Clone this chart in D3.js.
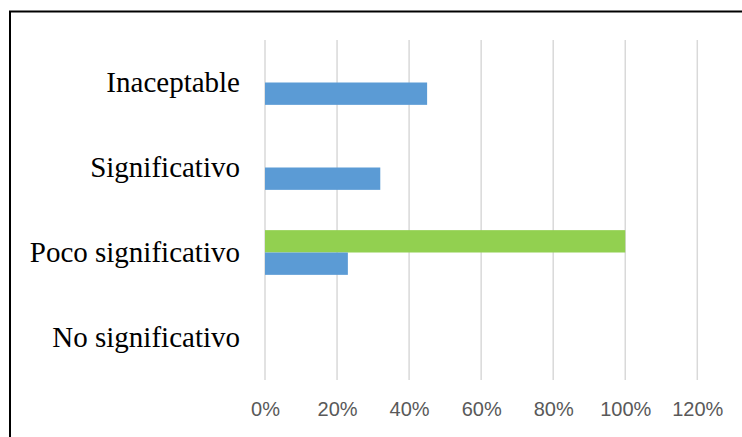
<!DOCTYPE html>
<html>
<head>
<meta charset="utf-8">
<script src="https://cdn.jsdelivr.net/npm/d3@7"></script>
<style>
  html, body { margin: 0; padding: 0; background: #fff; }
  svg { display: block; }
</style>
</head>
<body>
<svg id="chart" width="742" height="437"></svg>
<script>
// Categories, top to bottom
const categories = ["Inaceptable", "Significativo", "Poco significativo", "No significativo"];
// Two series per category (green drawn above blue inside each group)
const seriesNames = ["Serie 2", "Serie 1"];
const serieGreen = [0, 0, 1.00, 0];
const serieBlue = [0.45, 0.32, 0.23, 0];
const tickValues = [0, 0.2, 0.4, 0.6, 0.8, 1.0, 1.2];
const seriesColors = ["#92d050", "#5b9bd5"];

const svg = d3.select("#chart");

// Outer frame (only top and left edges fall inside the view)
svg.append("rect")
  .attr("x", 10).attr("y", 11.5)
  .attr("width", 800).attr("height", 500)
  .attr("fill", "none").attr("stroke", "#000").attr("stroke-width", 2);

const plot = { left: 265, right: 697.3, top: 40, bottom: 380 };

const x = d3.scaleLinear().domain([0, 1.2]).range([plot.left, plot.right]);
const y = d3.scaleBand().domain(categories).range([plot.top, plot.bottom])
  .paddingInner(0.474).paddingOuter(0.237);
const ySub = d3.scaleBand().domain(seriesNames).range([0, y.bandwidth()]);

// Vertical gridlines
svg.append("g").selectAll("line").data(tickValues).join("line")
  .attr("x1", d => x(d)).attr("x2", d => x(d))
  .attr("y1", plot.top).attr("y2", plot.bottom)
  .attr("stroke", "#d9d9d9").attr("stroke-width", 1.5);

// Bars
const rows = categories.map((c, i) => ({ cat: c, values: [serieGreen[i], serieBlue[i]] }));
const groups = svg.append("g").selectAll("g").data(rows).join("g")
  .attr("transform", d => `translate(0,${y(d.cat)})`);
groups.selectAll("rect")
  .data(d => d.values.map((v, j) => ({ name: seriesNames[j], v, color: seriesColors[j] })))
  .join("rect")
  .attr("x", x(0))
  .attr("y", d => ySub(d.name))
  .attr("width", d => x(d.v) - x(0))
  .attr("height", ySub.bandwidth())
  .attr("fill", d => d.color);

// Category labels
const yAxis = d3.axisLeft(y).tickSize(0).tickPadding(25);
const gy = svg.append("g").attr("transform", `translate(${plot.left},0)`).call(yAxis);
gy.select(".domain").remove();
gy.selectAll("text")
  .attr("font-family", "'Liberation Serif', 'Times New Roman', serif")
  .attr("font-size", 29).attr("fill", "#000");

// Percentage axis
const xAxis = d3.axisBottom(x).tickValues(tickValues).tickSize(0).tickPadding(22)
  .tickFormat(d3.format(".0%"));
const gx = svg.append("g").attr("transform", `translate(0,${plot.bottom})`).call(xAxis);
gx.select(".domain").remove();
gx.selectAll("text")
  .attr("font-family", "'Liberation Sans', Arial, sans-serif")
  .attr("font-size", 20).attr("fill", "#595959");
</script>
</body>
</html>
